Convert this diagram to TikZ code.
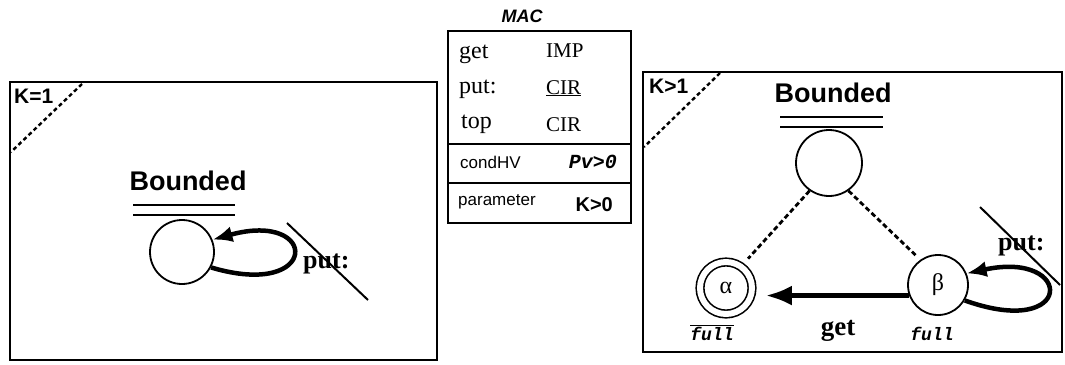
\documentclass[tikz,border=0pt]{standalone}
\usepackage{fontspec}
\setmainfont{Liberation Serif}
\setsansfont{Liberation Sans}
\setmonofont{Liberation Mono}
\usepackage{tikz}
\usetikzlibrary{arrows.meta, positioning, calc}

\begin{document}
\begin{tikzpicture}[x=1pt, y=-1pt,
    frame/.style={draw, line width=1.6pt},
    corner/.style={line width=2.4pt, dash pattern=on 4pt off 3pt},
    link/.style={line width=2.8pt, dash pattern=on 5pt off 3pt},
    state/.style={draw, circle, line width=1.8pt, minimum size=64pt, inner sep=0pt},
    title/.style={font=\sffamily\bfseries\fontsize{27}{30}\selectfont, anchor=base, inner sep=0pt},
    flag/.style={font=\sffamily\bfseries\fontsize{21}{24}\selectfont, anchor=base west, inner sep=0pt},
    evt/.style={font=\rmfamily\bfseries\fontsize{26}{28}\selectfont, anchor=base west, inner sep=0pt},
    loopedge/.style={line width=4.5pt, -{Latex[length=20pt,width=16pt]}},
    getedge/.style={line width=4.5pt, -{Latex[length=26pt,width=20pt]}},
    strike/.style={line width=2pt},
    cell/.style={font=\rmfamily\fontsize{24}{26}\selectfont, anchor=base west, inner sep=0pt},
    small/.style={font=\sffamily\fontsize{17}{20}\selectfont, anchor=base west, inner sep=0pt},
    fulltext/.style={font=\ttfamily\bfseries\itshape\fontsize{18}{20}\selectfont, anchor=base, inner sep=0pt}
  ]
  \useasboundingbox (0,0) rectangle (1065,364);

  % K=1 frame
  \draw[frame] (10,82) rectangle (437,360);
  \draw[corner] (82,84) -- (11,152);
  \node[flag] (kone) at (14,103) {K=1};
  \node[title] (bnd1) at (188,190) {Bounded};
  \draw[line width=2pt] (133,205) -- (235,205) (133,215) -- (235,215);
  \node[state] (c1) at (182,252) {};
  \draw[loopedge] (c1.-28) .. controls (320,300) and (320,210) .. (c1.22);
  \node[evt] (put1) at (303,268) {put:};
  \coordinate (s1a) at (287,223);
  \coordinate (s1b) at (368,300);
  \draw[strike] (s1a) -- (s1b);

  % MAC table
  \node[font=\sffamily\bfseries\itshape\fontsize{18}{20}\selectfont, anchor=base, inner sep=0pt] (mac) at (522,22) {MAC};
  \draw[frame] (448,31) rectangle (631,223);
  \draw[frame] (448,144) -- (631,144);
  \draw[frame] (448,183) -- (631,183);
  \node[cell] (rget) at (459,58) {get};
  \node[cell] (rput) at (459,93) {put:};
  \node[cell] (rtop) at (461,128) {top};
  \node[cell, font=\rmfamily\fontsize{21}{24}\selectfont] (vget) at (546,57) {IMP};
  \node[cell, font=\rmfamily\fontsize{21}{24}\selectfont] (vput) at (546,94) {\underline{CIR}};
  \node[cell, font=\rmfamily\fontsize{21}{24}\selectfont] (vtop) at (546,131) {CIR};
  \node[small] (rcond) at (460,168) {condHV};
  \node[font=\ttfamily\bfseries\itshape\fontsize{20}{22}\selectfont, anchor=base east, inner sep=0pt] (vcond) at (617,168) {Pv>0};
  \node[small] (rpar) at (458,205) {parameter};
  \node[font=\sffamily\bfseries\fontsize{20}{22}\selectfont, anchor=base east, inner sep=0pt] (vpar) at (613,211) {K>0};

  % K>1 frame
  \draw[frame] (643,72) rectangle (1062,352);
  \draw[corner] (720,73) -- (644,147);
  \node[flag] (kmore) at (649,93) {K>1};
  \node[title] (bnd2) at (833,102) {Bounded};
  \draw[line width=2pt] (780,117) -- (883,117) (780,127) -- (883,127);
  \node[state, minimum size=66pt] (top) at (829,163) {};
  \node[draw, circle, line width=1.6pt, double, double distance=6pt, minimum size=52pt,
        font=\rmfamily\fontsize{24}{26}\selectfont] (alpha) at (726,288) {α};
  \node[state, minimum size=60pt, font=\rmfamily\fontsize{24}{26}\selectfont] (beta) at (938,285) {β};
  \draw[link, shorten >=10pt] (top.-125) -- (alpha.55);
  \draw[link, shorten >=6pt] (top.-55) -- (beta.125);
  \draw[getedge, shorten >=13pt] (beta.200) -- (beta.200 -| alpha.east);
  \node[evt, anchor=base, font=\rmfamily\bfseries\fontsize{27}{28}\selectfont] (get) at (838,335) {get};
  \draw[loopedge] (beta.-30) .. controls (1075,340) and (1075,250) .. (beta.22);
  \node[evt] (put2) at (998,250) {put:};
  \coordinate (s2a) at (980,207);
  \coordinate (s2b) at (1060,285);
  \draw[strike] (s2a) -- (s2b);
  \node[fulltext] (afull) at (712,340) {$\overline{\mbox{full}}$};
  \node[fulltext] (bfull) at (932,340) {full};
\end{tikzpicture}
\end{document}
